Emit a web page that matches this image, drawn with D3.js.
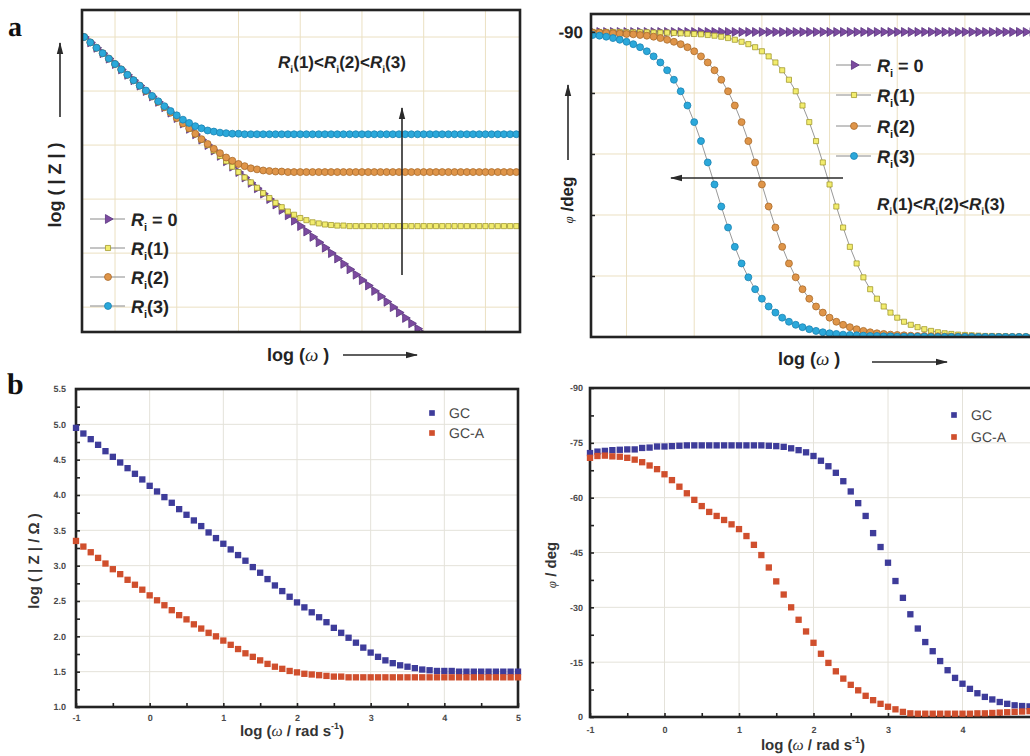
<!DOCTYPE html>
<html><head><meta charset="utf-8">
<script src="https://cdn.jsdelivr.net/npm/d3@7/dist/d3.min.js"></script>
<style>html,body{margin:0;padding:0;background:#fff}svg{display:block}</style>
</head><body>
<svg id="chart" width="1030" height="756"></svg>
<script>
// ================= DATA =================
// Panel a (model curves), x = log(omega) in arbitrary decades
const aLogW = [-0.5,-0.4,-0.3,-0.2,-0.1,0.0,0.1,0.2,0.3,0.4,0.5,0.6,0.7,0.8,0.9,1.0,1.1,1.2,1.3,1.4,1.5,1.6,1.7,1.8,1.9,2.0,2.1,2.2,2.3,2.4,2.5,2.6,2.7,2.8,2.9,3.0,3.1,3.2,3.3,3.4,3.5,3.6,3.7,3.8,3.9,4.0,4.1,4.2,4.3,4.4,4.5,4.6,4.7,4.8,4.9,5.0,5.1,5.2,5.3,5.4,5.5,5.6,5.7,5.8,5.9,6.0,6.1,6.2,6.3,6.4,6.5];
const aSeriesNames = [" = 0","(1)","(2)","(3)"];
// log|Z| (arbitrary units)
const aZ0 = [6.0,5.9,5.8,5.7,5.6,5.5,5.4,5.3,5.2,5.1,5.0,4.9,4.8,4.7,4.6,4.5,4.4,4.3,4.2,4.1,4.0,3.9,3.8,3.7,3.6,3.5,3.4,3.3,3.2,3.1,3.0,2.9,2.8,2.7,2.6,2.5,2.4,2.3,2.2,2.1,2.0,1.9,1.8,1.7,1.6,1.5,1.4,1.3,1.2,1.1,1.0,0.9,0.8,0.7,0.6,0.5,0.4,0.3,0.2,0.1,0.0,-0.1,-0.2,-0.3,-0.4,-0.5,-0.6,-0.7,-0.8,-0.9,-1.0];
const aZ1 = [6.0,5.9,5.8,5.7,5.6,5.5,5.4,5.3,5.2,5.1,5.0,4.9,4.8,4.7,4.6,4.5,4.4,4.3,4.2,4.1,4.0,3.9,3.8,3.7,3.6,3.5,
  3.40,3.31,3.21,3.11,3.02,2.93,2.85,2.77,2.71,2.65,2.61,2.57,2.55,2.53,2.52,2.51,2.51,
  2.5,2.5,2.5,2.5,2.5,2.5,2.5,2.5,2.5,2.5,2.5,2.5,2.5,2.5,2.5,2.5,2.5,2.5,2.5,2.5,2.5,2.5,2.5,2.5,2.5,2.5,2.5,2.5];
const aZ2 = [6.0,5.9,5.8,5.7,5.6,5.5,5.4,5.3,5.2,5.1,5.0,4.9,4.8,4.7,4.6,4.5,
  4.40,4.31,4.21,4.11,4.02,3.93,3.85,3.77,3.71,3.65,3.61,3.57,3.55,3.53,3.52,3.51,3.51,
  3.5,3.5,3.5,3.5,3.5,3.5,3.5,3.5,3.5,3.5,3.5,3.5,3.5,3.5,3.5,3.5,3.5,3.5,3.5,3.5,3.5,3.5,3.5,3.5,3.5,3.5,3.5,3.5,3.5,3.5,3.5,3.5,3.5,3.5,3.5,3.5,3.5,3.5];
const aZ3 = [6.0,5.9,5.8,5.7,5.6,5.5,5.4,5.3,5.2,
  5.10,5.01,4.91,4.81,4.72,4.63,4.55,4.47,4.41,4.35,4.31,4.27,4.25,4.23,4.22,4.21,4.21,
  4.2,4.2,4.2,4.2,4.2,4.2,4.2,4.2,4.2,4.2,4.2,4.2,4.2,4.2,4.2,4.2,4.2,4.2,4.2,4.2,4.2,4.2,4.2,4.2,4.2,4.2,4.2,4.2,4.2,4.2,4.2,4.2,4.2,4.2,4.2,4.2,4.2,4.2,4.2,4.2,4.2,4.2,4.2,4.2,4.2];
// phase (deg)
const aPh0 = [-90,-90,-90,-90,-90,-90,-90,-90,-90,-90,-90,-90,-90,-90,-90,-90,-90,-90,-90,-90,-90,-90,-90,-90,-90,-90,-90,-90,-90,-90,-90,-90,-90,-90,-90,-90,-90,-90,-90,-90,-90,-90,-90,-90,-90,-90,-90,-90,-90,-90,-90,-90,-90,-90,-90,-90,-90,-90,-90,-90,-90,-90,-90,-90,-90,-90,-90,-90,-90,-90,-90];
const aPh1 = [-90.0,-90.0,-90.0,-90.0,-90.0,
  -89.9,-89.9,-89.9,-89.9,-89.8,-89.8,-89.8,-89.7,-89.6,-89.5,
  -89.4,-89.3,-89.1,-88.9,-88.6,-88.2,-87.7,-87.1,-86.4,-85.5,
  -84.3,-82.8,-81.0,-78.7,-75.9,-72.5,-68.3,-63.4,-57.8,-51.5,
  -45.0,-38.5,-32.3,-26.6,-21.7,-17.6,-14.1,-11.3,-9.0,-7.2,
  -5.7,-4.5,-3.6,-2.9,-2.3,-1.8,-1.4,-1.1,-0.9,-0.7,
  -0.6,-0.5,-0.4,-0.3,-0.3,-0.2,-0.2,-0.1,-0.1,-0.1,
  -0.1,-0.1,0,0,0,0];
const aPh2 = [-89.8,-89.8,-89.7,-89.6,-89.5,
  -89.4,-89.3,-89.1,-88.9,-88.6,-88.2,-87.7,-87.1,-86.4,-85.5,
  -84.3,-82.8,-81.0,-78.7,-75.9,-72.5,-68.3,-63.4,-57.8,-51.5,
  -45.0,-38.5,-32.3,-26.6,-21.7,-17.6,-14.1,-11.3,-9.0,-7.2,
  -5.7,-4.5,-3.6,-2.9,-2.3,-1.8,-1.4,-1.1,-0.9,-0.7,
  -0.6,-0.5,-0.4,-0.3,-0.3,-0.2,-0.2,-0.1,-0.1,-0.1,
  -0.1,-0.1,0,0,0,0,0,0,0,0,0,0,0,0,0,0];
const aPh3 = [-89.1,-88.9,-88.6,-88.2,-87.7,
  -87.1,-86.4,-85.5,-84.3,-82.8,-81.0,-78.7,-75.9,-72.5,-68.3,
  -63.4,-57.8,-51.5,-45.0,-38.5,-32.3,-26.6,-21.7,-17.6,-14.1,
  -11.3,-9.0,-7.2,-5.7,-4.5,-3.6,-2.9,-2.3,-1.8,-1.4,
  -1.1,-0.9,-0.7,-0.6,-0.5,-0.4,-0.3,-0.3,-0.2,-0.2,
  -0.1,-0.1,-0.1,-0.1,-0.1,
  0,0,0,0,0,0,0,0,0,0,0,0,0,0,0,0,0,0,0,0,0];
const aPhTicks = [-90,-72,-54,-36,-18];

// Panel b (measured), x = log(omega / rad s-1)
const bLogW = [-1.0,-0.9,-0.8,-0.7,-0.6,-0.5,-0.4,-0.3,-0.2,-0.1,0.0,0.1,0.2,0.3,0.4,0.5,0.6,0.7,0.8,0.9,1.0,1.1,1.2,1.3,1.4,1.5,1.6,1.7,1.8,1.9,2.0,2.1,2.2,2.3,2.4,2.5,2.6,2.7,2.8,2.9,3.0,3.1,3.2,3.3,3.4,3.5,3.6,3.7,3.8,3.9,4.0,4.1,4.2,4.3,4.4,4.5,4.6,4.7,4.8,4.9,5.0];
const bSeriesNames = ["GC","GC-A"];
const bZgc = [4.95,4.87,4.79,4.71,4.62,4.54,4.46,4.38,4.30,4.22,
  4.13,4.05,3.97,3.89,3.80,3.72,3.64,3.56,3.47,3.39,
  3.31,3.23,3.15,3.07,2.98,2.90,2.81,2.72,2.64,2.56,
  2.48,2.41,2.34,2.27,2.20,2.12,2.05,1.98,1.91,1.84,
  1.77,1.71,1.66,1.62,1.59,1.57,1.55,1.53,1.52,1.51,
  1.51,1.51,1.50,1.50,1.50,1.50,1.50,1.50,1.50,1.50,1.50];
const bZgca = [3.35,3.27,3.19,3.11,3.03,2.95,2.88,2.80,2.73,2.66,
  2.58,2.51,2.44,2.37,2.30,2.24,2.17,2.11,2.05,2.00,
  1.94,1.88,1.82,1.76,1.71,1.66,1.61,1.57,1.54,1.51,
  1.49,1.47,1.46,1.45,1.44,1.43,1.43,1.42,1.42,1.42,
  1.42,1.42,1.42,1.42,1.42,1.42,1.42,1.42,1.42,1.42,
  1.42,1.42,1.42,1.42,1.42,1.42,1.42,1.42,1.42,1.42,1.42];
const bPhgc = [-72.2,-72.6,-72.8,-73.0,-73.1,-73.2,-73.2,-73.6,-73.7,-74.0,
  -74.0,-74.1,-74.2,-74.3,-74.3,-74.3,-74.3,-74.3,-74.3,-74.3,
  -74.3,-74.3,-74.3,-74.3,-74.2,-74.1,-73.9,-73.5,-73.0,-72.4,
  -71.4,-70.1,-68.6,-66.8,-64.5,-61.7,-58.5,-55.0,-50.3,-46.5,
  -42.2,-37.2,-32.6,-28.1,-24.2,-20.5,-18.0,-15.3,-12.8,-10.7,
  -9.1,-7.7,-6.5,-5.5,-4.8,-4.1,-3.6,-3.2,-3.0,-2.9,-2.8];
const bPhgca = [-70.9,-71.4,-71.5,-71.3,-71.2,-70.9,-70.4,-69.7,-68.8,-67.8,
  -66.4,-64.8,-63.0,-61.2,-59.4,-57.7,-56.1,-55.0,-53.9,-52.7,
  -51.4,-49.5,-47.1,-44.3,-40.9,-37.1,-33.5,-30.0,-26.6,-23.4,
  -20.3,-17.3,-14.8,-12.5,-10.5,-8.8,-7.3,-5.8,-4.6,-3.6,
  -2.8,-2.1,-1.4,-1.0,-0.9,-0.9,-0.9,-0.9,-0.9,-0.9,
  -0.9,-0.9,-1.0,-1.0,-1.1,-1.2,-1.3,-1.4,-1.5,-1.6,-1.7];
const bXTicks = [-1,0,1,2,3,4,5];
const bZTicks = [1.0,1.5,2.0,2.5,3.0,3.5,4.0,4.5,5.0,5.5];
const bPhTicks = [0,-15,-30,-45,-60,-75,-90];

// ================= DRAWING =================
const W = 1030;
const svg = d3.select("#chart").attr("text-rendering","geometricPrecision");
const SANS = "'Liberation Sans', Arial, Helvetica, sans-serif";
const SERIF = "'Liberation Serif', 'Times New Roman', serif";
const GRID_A = "#ebe0c2";
const GRID_B = "#e4e2da";
const INK = "#232323";

const defs = svg.append("defs");
defs.append("marker").attr("id","ah").attr("viewBox","0 0 12 8").attr("refX",11).attr("refY",4)
  .attr("markerWidth",12).attr("markerHeight",8).attr("markerUnits","userSpaceOnUse").attr("orient","auto")
  .append("path").attr("d","M0,0.8 L12,4 L0,7.2 Z").attr("fill","#2a2a2a");
function arrow(x1,y1,x2,y2){
  svg.append("line").attr("x1",x1).attr("y1",y1).attr("x2",x2).attr("y2",y2)
    .attr("stroke","#2a2a2a").attr("stroke-width",1.6).attr("marker-end","url(#ah)");
}
function clip(id,xS,yS){
  const [x0,x1]=xS.range(), [y0,y1]=yS.range();
  defs.append("clipPath").attr("id",id).append("rect")
    .attr("x",Math.min(x0,x1)).attr("y",Math.min(y0,y1))
    .attr("width",Math.abs(x1-x0)).attr("height",Math.abs(y1-y0));
}
function frame(xS,yS,extraRight){
  const [x0,x1]=xS.range(), [y0,y1]=yS.range();
  svg.append("rect").attr("x",x0).attr("y",y1).attr("width",x1-x0+(extraRight||0)).attr("height",y0-y1)
    .attr("fill","none").attr("stroke",INK).attr("stroke-width",2.6);
}
function grid(xS,yS,xs,ys,color){
  const g = svg.append("g").attr("stroke",color).attr("stroke-width",1);
  g.selectAll(null).data(xs).join("line").attr("x1",d=>xS(d)).attr("x2",d=>xS(d))
    .attr("y1",yS.range()[0]).attr("y2",yS.range()[1]);
  g.selectAll(null).data(ys).join("line").attr("y1",d=>yS(d)).attr("y2",d=>yS(d))
    .attr("x1",xS.range()[0]).attr("x2",xS.range()[1]);
}

const aStyles = [
  {sym:d3.symbolTriangle, size:34, rot:90, fill:"#7c4b9f", stroke:"#5b3380"},
  {sym:d3.symbolSquare,   size:26, rot:0,  fill:"#f2ec6e", stroke:"#a39a2e"},
  {sym:d3.symbolCircle,   size:38, rot:0,  fill:"#df9549", stroke:"#a96b2b"},
  {sym:d3.symbolCircle,   size:38, rot:0,  fill:"#2ba8da", stroke:"#1a83b3"}
];
function drawSeries(g,xs,ys,st,xS,yS,lineColor){
  const pts = xs.map((x,i)=>[x,ys[i]]);
  if(lineColor) g.append("path").datum(pts).attr("fill","none").attr("stroke",lineColor).attr("stroke-width",0.9)
    .attr("d",d3.line().x(d=>xS(d[0])).y(d=>yS(d[1])));
  const p = d3.symbol().type(st.sym).size(st.size)();
  g.selectAll(null).data(pts).join("path").attr("d",p)
    .attr("transform",d=>`translate(${xS(d[0])},${yS(d[1])}) rotate(${st.rot})`)
    .attr("fill",st.fill).attr("stroke",st.stroke||"none").attr("stroke-width",0.8);
}
function riText(t, parts, fs){
  parts.forEach((suf,k)=>{
    if(k>0) t.append("tspan").attr("font-style","normal").text("<");
    t.append("tspan").attr("font-style","italic").text("R");
    t.append("tspan").attr("font-size",fs*0.62).attr("dy",fs*0.3).text("i");
    t.append("tspan").attr("dy",-fs*0.3).text(suf);
  });
}
function legendA(x, ys, fs){
  aStyles.forEach((st,k)=>{
    const y = ys[k];
    svg.append("line").attr("x1",x).attr("x2",x+35).attr("y1",y).attr("y2",y).attr("stroke","#8a8a8a").attr("stroke-width",1);
    svg.append("path").attr("d",d3.symbol().type(st.sym).size(st.size)())
      .attr("transform",`translate(${x+18},${y}) rotate(${st.rot})`).attr("fill",st.fill).attr("stroke",st.stroke).attr("stroke-width",0.8);
    const t = svg.append("text").attr("x",x+41).attr("y",y+6.5).attr("font-family",SANS).attr("font-weight","bold")
      .attr("font-size",fs).attr("fill",INK);
    riText(t,[aSeriesNames[k]],fs);
  });
}
function logOmega(t, fs, unit){
  t.append("tspan").text("log (");
  t.append("tspan").attr("font-family",SERIF).attr("font-style","italic").attr("font-weight","normal").attr("font-size",fs*1.05).text("ω");
  if(unit){
    t.append("tspan").text(" / rad s");
    t.append("tspan").attr("font-size",fs*0.6).attr("dy",-fs*0.45).text("-1");
    t.append("tspan").attr("dy",fs*0.45).text(")");
  } else {
    t.append("tspan").text(" )");
  }
}

// ---------- Panel a, left: log|Z| ----------
const axL = d3.scaleLinear([-0.535,6.56],[82,520]);
const ayL = d3.scaleLinear([0.54,6.5],[332,10]);
grid(axL,ayL,[0,1,2,3,4,5,6],[1,2,3,4,5,6],GRID_A);
clip("cAL",axL,ayL);
const gAL = svg.append("g").attr("clip-path","url(#cAL)");
const aZ = [aZ0,aZ1,aZ2,aZ3];
aStyles.forEach((st,k)=>drawSeries(gAL,aLogW,aZ[k],st,axL,ayL,"#8c8c8c"));
frame(axL,ayL);
legendA(90,[219,248,277,306],18);
{
  const t = svg.append("text").attr("x",278).attr("y",68).attr("font-family",SANS).attr("font-weight","bold").attr("font-size",17).attr("fill",INK);
  riText(t,["(1)","(2)","(3)"],17);
}
arrow(402,275,402,108);
svg.append("text").attr("transform","translate(61,185) rotate(-90)").attr("text-anchor","middle")
  .attr("font-family",SANS).attr("font-weight","bold").attr("font-size",18).attr("fill",INK).text("log ( | Z | )");
arrow(60,117,60,43);
{
  const t = svg.append("text").attr("x",267).attr("y",361).attr("font-family",SANS).attr("font-weight","bold").attr("font-size",18).attr("fill",INK);
  logOmega(t,18,false);
}
arrow(343,355,417,355);

// ---------- Panel a, right: phase ----------
const axR = d3.scaleLinear([-0.525,6.0],[591,1032.6]);
const ayR = d3.scaleLinear([0,-95.3],[337,14]);
grid(axR,ayR,[0,1,2,3,4,5,6],aPhTicks.slice(1),GRID_A);
clip("cAR",axR,ayR);
const gAR = svg.append("g").attr("clip-path","url(#cAR)");
const aPh = [aPh0,aPh1,aPh2,aPh3];
aStyles.forEach((st,k)=>drawSeries(gAR,aLogW,aPh[k],st,axR,ayR,"#8c8c8c"));
frame(axR,ayR,20);
{
  const ax = svg.append("g").attr("transform",`translate(${axR.range()[0]},0)`)
    .call(d3.axisLeft(ayR).tickValues(aPhTicks).tickSizeInner(-4).tickSizeOuter(0).tickPadding(8)
      .tickFormat(d=> d===-90 ? "-90" : ""));
  ax.select(".domain").remove();
  ax.selectAll("line").attr("stroke",INK).attr("stroke-width",1.5);
  ax.selectAll("text").attr("font-family",SANS).attr("font-weight","bold").attr("font-size",17).attr("fill",INK);
}
legendA(836,[65,95,126,156],18);
{
  const t = svg.append("text").attr("x",877).attr("y",210).attr("font-family",SANS).attr("font-weight","bold").attr("font-size",17).attr("fill",INK);
  riText(t,["(1)","(2)","(3)"],17);
}
arrow(843,178,671,178);
{
  const t = svg.append("text").attr("transform","translate(573,200) rotate(-90)").attr("text-anchor","middle")
    .attr("font-family",SANS).attr("font-weight","bold").attr("font-size",17).attr("fill",INK);
  t.append("tspan").attr("font-family",SERIF).attr("font-style","italic").attr("font-weight","normal").attr("font-size",13).text("φ");
  t.append("tspan").text(" /deg");
}
arrow(568,160,568,85);
{
  const t = svg.append("text").attr("x",778).attr("y",365).attr("font-family",SANS).attr("font-weight","bold").attr("font-size",18).attr("fill",INK);
  logOmega(t,18,false);
}
arrow(872,362,947,362);

// ---------- Panel b helpers ----------
const bStyles = [
  {sym:d3.symbolSquare, size:40, rot:0, fill:"#3e3c9a", stroke:"none"},
  {sym:d3.symbolSquare, size:40, rot:0, fill:"#d04f2d", stroke:"none"}
];
function bAxes(xS,yS,yTicks,yMinorStep,yFmt,xPad,yPad){
  const xMinor = d3.range(-1,5.001,0.5);
  const gx = svg.append("g").attr("transform",`translate(0,${yS.range()[0]})`)
    .call(d3.axisBottom(xS).tickValues(xMinor).tickSizeInner(-4).tickSizeOuter(0).tickPadding(xPad)
      .tickFormat(d=> (bXTicks.includes(d) && xS(d) < W - 6) ? String(d) : ""));
  const [ya,yb] = d3.extent(yTicks);
  const yMinor = d3.range(ya, yb+1e-6, yMinorStep);
  const gy = svg.append("g").attr("transform",`translate(${xS.range()[0]},0)`)
    .call(d3.axisLeft(yS).tickValues(yMinor).tickSizeInner(-4).tickSizeOuter(0).tickPadding(yPad)
      .tickFormat(d=> yTicks.some(v=>Math.abs(v-d)<1e-6) ? yFmt(d) : ""));
  [gx,gy].forEach(g=>{
    g.select(".domain").remove();
    g.selectAll("line").attr("stroke",INK).attr("stroke-width",1.6);
    g.selectAll("text").attr("font-family",SANS).attr("font-weight","bold").attr("font-size",9).attr("fill","#4a4a4a");
  });
}
function legendB(x,ys){
  bStyles.forEach((st,k)=>{
    svg.append("path").attr("d",d3.symbol().type(st.sym).size(32)()).attr("transform",`translate(${x},${ys[k]})`).attr("fill",st.fill);
    svg.append("text").attr("x",x+17).attr("y",ys[k]+5).attr("font-family",SANS).attr("font-size",14).attr("fill","#444").text(bSeriesNames[k]);
  });
}

// ---------- Panel b, left: log|Z| ----------
const bxL = d3.scaleLinear([-1,5],[76,518]);
const byL = d3.scaleLinear([1,5.5],[707,389]);
grid(bxL,byL,[0,1,2,3,4],[1.5,2,2.5,3,3.5,4,4.5,5],GRID_B);
frame(bxL,byL);
bAxes(bxL,byL,bZTicks,0.25,d3.format(".1f"),8,10);
{
  const g = svg.append("g");
  drawSeries(g,bLogW,bZgc,bStyles[0],bxL,byL,null);
  drawSeries(g,bLogW,bZgca,bStyles[1],bxL,byL,null);
}
legendB(432,[413,433]);
svg.append("text").attr("transform","translate(39,561) rotate(-90)").attr("text-anchor","middle")
  .attr("font-family",SANS).attr("font-weight","bold").attr("font-size",15).attr("fill","#333").text("log ( | Z | / Ω )");
{
  const t = svg.append("text").attr("x",292).attr("y",736).attr("text-anchor","middle").attr("font-family",SANS).attr("font-weight","bold").attr("font-size",15).attr("fill","#333");
  logOmega(t,15,true);
}

// ---------- Panel b, right: phase ----------
const bxR = d3.scaleLinear([-1,5],[590,1037]);
const byR = d3.scaleLinear([0,-90],[717,388]);
grid(bxR,byR,[0,1,2,3,4],[-15,-30,-45,-60,-75],GRID_B);
frame(bxR,byR,10);
bAxes(bxR,byR,bPhTicks,7.5,d=>String(d),10,7);
{
  const g = svg.append("g");
  drawSeries(g,bLogW,bPhgc,bStyles[0],bxR,byR,null);
  drawSeries(g,bLogW,bPhgca,bStyles[1],bxR,byR,null);
}
legendB(954,[415,437]);
{
  const t = svg.append("text").attr("transform","translate(556,565) rotate(-90)").attr("text-anchor","middle")
    .attr("font-family",SANS).attr("font-weight","bold").attr("font-size",15).attr("fill","#333");
  t.append("tspan").attr("font-family",SERIF).attr("font-style","italic").attr("font-weight","normal").attr("font-size",13).text("φ");
  t.append("tspan").text(" / deg");
}
{
  const t = svg.append("text").attr("x",813).attr("y",750).attr("text-anchor","middle").attr("font-family",SANS).attr("font-weight","bold").attr("font-size",15).attr("fill","#333");
  logOmega(t,15,true);
}

// ---------- Panel letters ----------
svg.append("text").attr("x",8).attr("y",36).attr("font-family",SERIF).attr("font-weight","bold").attr("font-size",28).attr("fill","#111").text("a");
svg.append("text").attr("x",7).attr("y",394).attr("font-family",SERIF).attr("font-weight","bold").attr("font-size",30).attr("fill","#111").text("b");
</script>
</body></html>
